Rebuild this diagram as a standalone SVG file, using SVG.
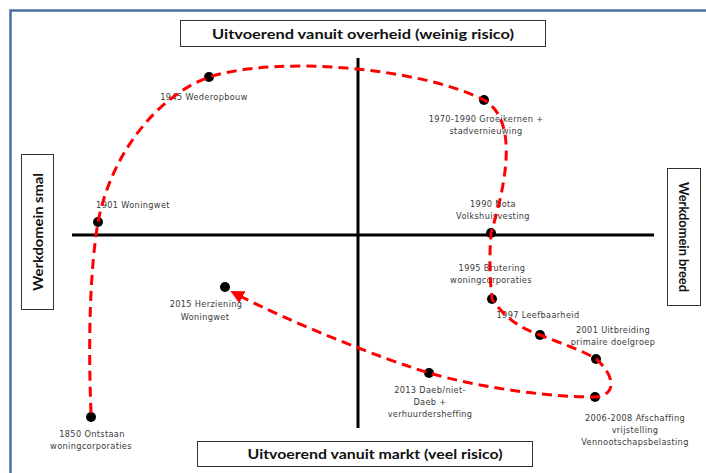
<svg xmlns="http://www.w3.org/2000/svg" width="706" height="473" viewBox="0 0 706 473">
  <style>
    .frame { stroke: #4a6c9e; stroke-width: 2.5; fill: none; }
    .box { fill: #ffffff; stroke: #333333; stroke-width: 1; }
    .title { font-family: Lato, "Liberation Sans", sans-serif; font-weight: bold; font-size: 14px; fill: #111111; text-anchor: middle; }
    .axis { stroke: #000000; stroke-width: 3; }
    .dot { fill: #000000; }
    .lbl { font-family: "DejaVu Sans", Verdana, sans-serif; font-size: 8.2px; letter-spacing: 0.35px; fill: #3a3a3a; text-anchor: middle; }
    .path { fill: none; stroke: #ff0000; stroke-width: 3; stroke-dasharray: 10 6; }
  </style>
  <defs>
    <marker id="arrow" viewBox="0 0 10 10" refX="2" refY="5" markerWidth="4.5" markerHeight="4.5" orient="auto" markerUnits="strokeWidth">
      <path d="M0,0 L10,5 L0,10 Z" fill="#ff0000"/>
    </marker>
  </defs>

  <rect width="706" height="473" fill="#ffffff"/>
  <!-- outer frame (top and left edges) -->
  <path class="frame" d="M10.5,473 V10.5 H706"/>

  <!-- axes -->
  <g id="axes">
    <line class="axis" x1="72" y1="235" x2="654" y2="235"/>
    <line class="axis" x1="358" y1="58" x2="358" y2="428"/>
  </g>

  <!-- quadrant captions -->
  <g id="top-caption">
    <rect class="box" x="180.5" y="20.5" width="365" height="26"/>
    <text class="title" x="363" y="38.5" textLength="302" lengthAdjust="spacingAndGlyphs">Uitvoerend vanuit overheid (weinig risico)</text>
  </g>
  <g id="bottom-caption">
    <rect class="box" x="197.5" y="441.5" width="335" height="25"/>
    <text class="title" x="375" y="459" textLength="255" lengthAdjust="spacingAndGlyphs">Uitvoerend vanuit markt (veel risico)</text>
  </g>
  <g id="left-caption">
    <rect class="box" x="21.5" y="154.5" width="32" height="155"/>
    <text class="title" transform="translate(43,232) rotate(-90)" x="0" y="0" textLength="118" lengthAdjust="spacingAndGlyphs">Werkdomein smal</text>
  </g>
  <g id="right-caption">
    <rect class="box" x="667.5" y="168.5" width="33" height="137"/>
    <text class="title" transform="translate(679,237) rotate(90)" x="0" y="0" textLength="110" lengthAdjust="spacingAndGlyphs">Werkdomein breed</text>
  </g>

  <!-- milestones -->
  <g id="n1850"><circle class="dot" cx="91" cy="417" r="5"/>
    <text class="lbl" x="92" y="437">1850 Ontstaan</text>
    <text class="lbl" x="91" y="449">woningcorporaties</text></g>
  <g id="n1901"><circle class="dot" cx="98" cy="222" r="5"/>
    <text class="lbl" x="133" y="208">1901 Woningwet</text></g>
  <g id="n1945"><circle class="dot" cx="209" cy="77" r="5"/>
    <text class="lbl" x="204" y="100">1945 Wederopbouw</text></g>
  <g id="n1970"><circle class="dot" cx="484" cy="100" r="5"/>
    <text class="lbl" x="486" y="122">1970-1990 Groeikernen +</text>
    <text class="lbl" x="486" y="134">stadvernieuwing</text></g>
  <g id="n1990"><circle class="dot" cx="491" cy="233" r="5"/>
    <text class="lbl" x="493" y="207">1990 Nota</text>
    <text class="lbl" x="493" y="219">Volkshuisvesting</text></g>
  <g id="n1995"><circle class="dot" cx="492" cy="299" r="5"/>
    <text class="lbl" x="492" y="271">1995 Brutering</text>
    <text class="lbl" x="491" y="283">woningcorporaties</text></g>
  <g id="n1997"><circle class="dot" cx="540" cy="335" r="5"/>
    <text class="lbl" x="538" y="318">1997 Leefbaarheid</text></g>
  <g id="n2001"><circle class="dot" cx="596" cy="359" r="5"/>
    <text class="lbl" x="613" y="333">2001 Uitbreiding</text>
    <text class="lbl" x="613" y="345">primaire doelgroep</text></g>
  <g id="n2006"><circle class="dot" cx="595" cy="397" r="5"/>
    <text class="lbl" x="635" y="421">2006-2008 Afschaffing</text>
    <text class="lbl" x="635" y="433">vrijstelling</text>
    <text class="lbl" x="635" y="445">Vennootschapsbelasting</text></g>
  <g id="n2013"><circle class="dot" cx="429" cy="373" r="5"/>
    <text class="lbl" x="430" y="393">2013 Daeb/niet-</text>
    <text class="lbl" x="430" y="405">Daeb +</text>
    <text class="lbl" x="430" y="417">verhuurdersheffing</text></g>
  <g id="n2015"><circle class="dot" cx="225" cy="287" r="5"/>
    <text class="lbl" x="206" y="307">2015 Herziening</text>
    <text class="lbl" x="205" y="320">Woningwet</text></g>

  <!-- timeline connector -->
  <g id="connectors">
    <path class="path" marker-end="url(#arrow)" d="M91,413 C88,340 90,270 98,222 C112,150 160,95 209,77 C280,55 420,68 484,100 C518,120 507,180 491,233 C489,260 490,280 492,299 C505,318 520,328 540,335 C560,343 582,350 596,359 C612,372 620,395 595,397 C540,397 470,385 429,373 C380,358 290,322 240,296"/>
  </g>
</svg>
